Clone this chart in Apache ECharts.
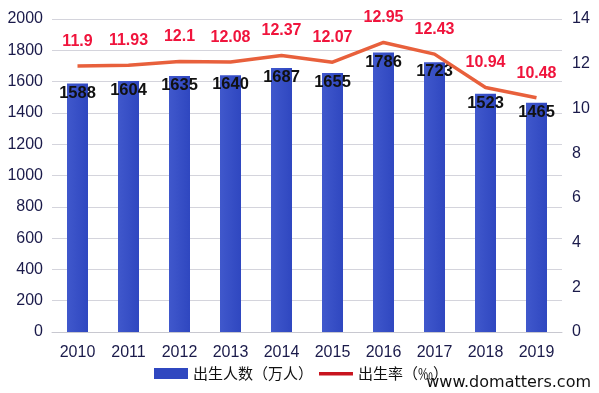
<!DOCTYPE html>
<html><head><meta charset="utf-8">
<script src="https://cdn.jsdelivr.net/npm/echarts@6/dist/echarts.min.js"></script>
<style>html,body{margin:0;padding:0;background:#fff}#c{width:599px;height:393px}</style>
</head><body><div id="c"></div>
<script>
const years = ['2010','2011','2012','2013','2014','2015','2016','2017','2018','2019'];
const births = [1588,1604,1635,1640,1687,1655,1786,1723,1523,1465];
const birthRate = [11.9,11.93,12.1,12.08,12.37,12.07,12.95,12.43,10.94,10.48];
const leftTicks = {min:0, max:2000, interval:200};
const rightTicks = {min:0, max:14, interval:2};

const chart = echarts.init(document.getElementById('c'));
const font = '"Liberation Sans","Open Sans",sans-serif';
chart.setOption({
  animation:false,
  backgroundColor:'#fff',
  grid:{left:52,right:37,top:19,bottom:61},
  legend:{
    bottom:7,left:149,itemGap:6,itemWidth:34,itemHeight:11,
    textStyle:{fontFamily:'"Noto Sans CJK SC",sans-serif',fontSize:15,color:'#111'},
    data:[
      {name:'出生人数（万人）',icon:'rect',itemStyle:{color:'#2f47c0',opacity:1}},
      {name:'出生率（‰）',icon:'path://M0,0L0.01,0L0,0.01Z M0,4H34V7.5H0Z M0,11L0.01,11L0,11.01Z',itemStyle:{color:'#c8141e',opacity:1}}
    ]
  },
  xAxis:{type:'category',data:years,
    axisLine:{lineStyle:{color:'#c8c8d0',width:1}},axisTick:{show:false},
    axisLabel:{fontFamily:font,fontSize:16,color:'#1a1a4a',margin:13}},
  yAxis:[
    {type:'value',min:leftTicks.min,max:leftTicks.max,interval:leftTicks.interval,
      axisLine:{show:false},axisTick:{show:false},
      splitLine:{lineStyle:{color:'#d4d4dc'}},
      axisLabel:{fontFamily:font,fontSize:16,color:'#1a1a4a',margin:9,formatter:v=>String(v)}},
    {type:'value',min:rightTicks.min,max:rightTicks.max,interval:rightTicks.interval,
      axisLine:{show:false},axisTick:{show:false},splitLine:{show:false},
      axisLabel:{fontFamily:font,fontSize:16,color:'#1a1a4a',margin:10}}
  ],
  series:[
    {name:'出生人数（万人）',type:'bar',data:births,barWidth:21,
      itemStyle:{color:new echarts.graphic.LinearGradient(0,0,1,0,[{offset:0,color:'#4058cc'},{offset:1,color:'#2f47c0'}])},
      label:{show:true,position:'insideTop',offset:[0,-4],fontFamily:font,fontWeight:'bold',fontSize:16.5,color:'#111'}},
    {name:'出生率（‰）',type:'line',yAxisIndex:1,data:birthRate,
      symbol:'circle',symbolSize:1,showSymbol:true,
      lineStyle:{color:'#e8603c',width:3.5},itemStyle:{color:'#e8603c',opacity:0},
      label:{show:true,position:'top',distance:16,fontFamily:font,fontWeight:'bold',fontSize:16,color:'#f0143c',opacity:1}}
  ],
  graphic:[{type:'text',right:8,bottom:2,z:100,style:{text:'www.domatters.com',fontFamily:'"DejaVu Sans",sans-serif',fontSize:16,fill:'#111'}}]
});
</script></body></html>
